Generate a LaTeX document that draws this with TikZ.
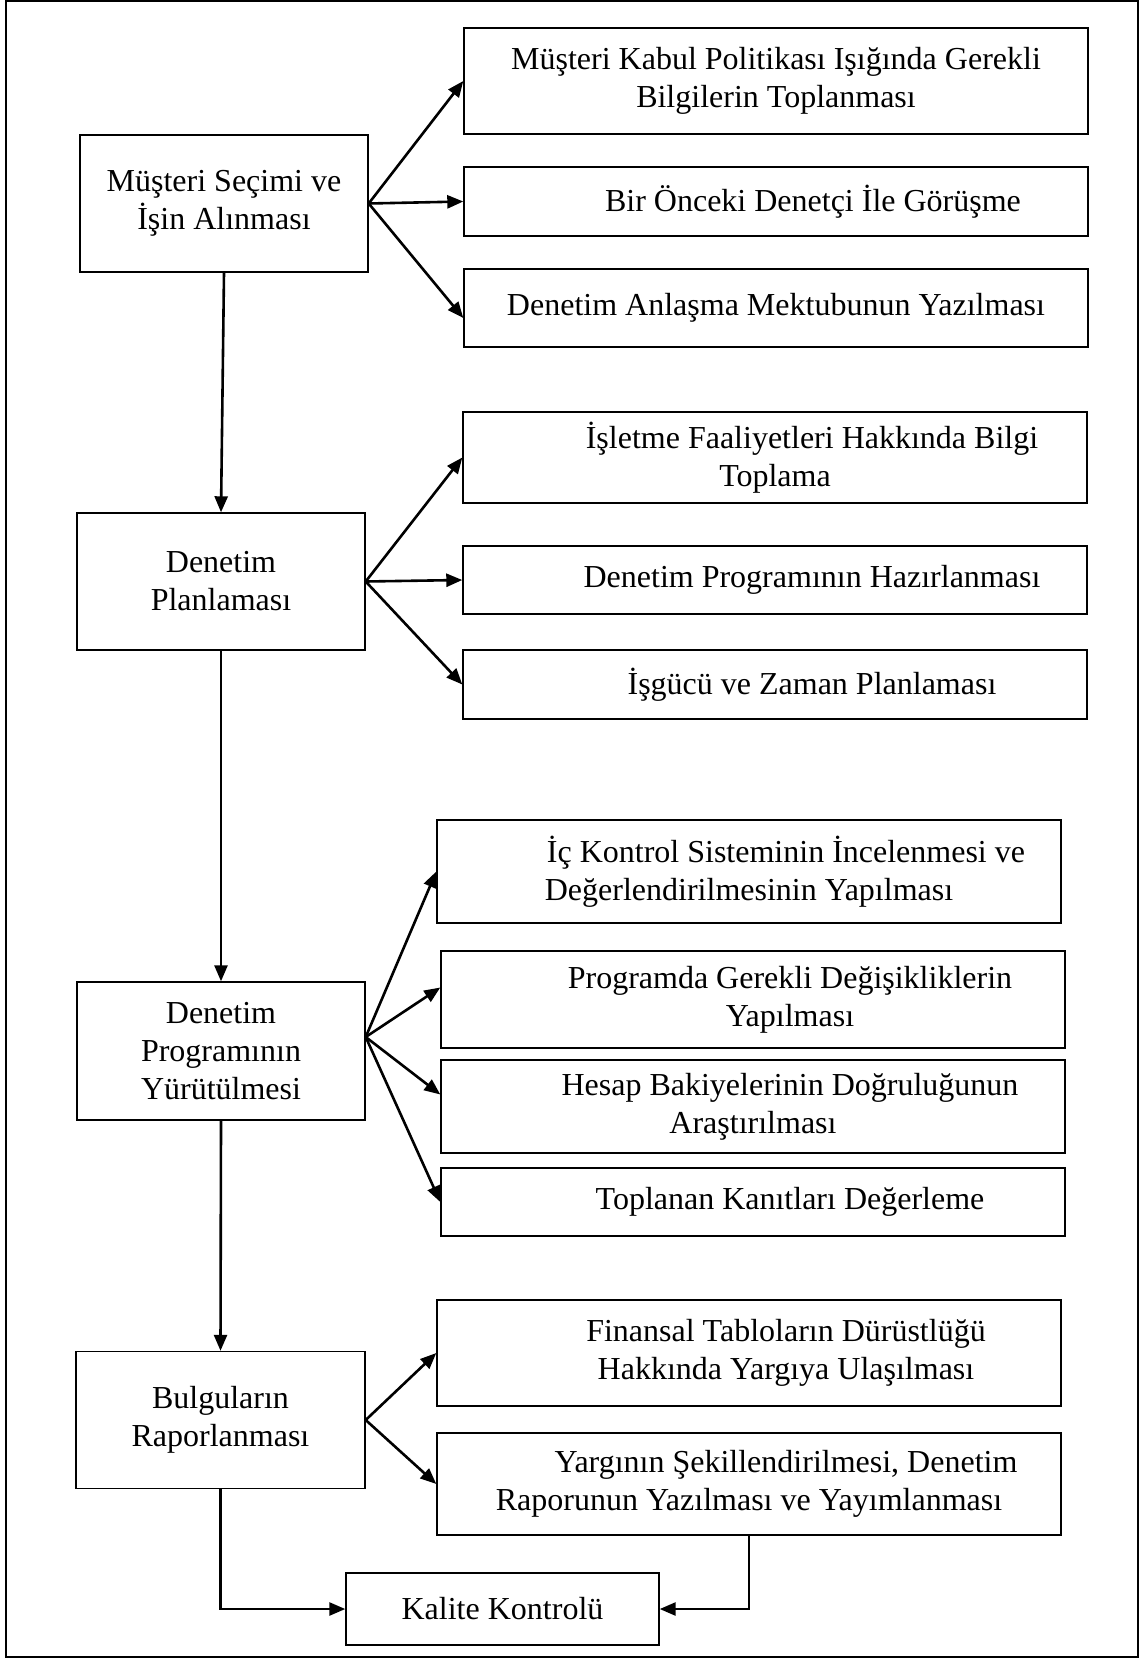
\documentclass[tikz,border=0pt]{standalone}
\usepackage{fontspec}
\setmainfont{Liberation Serif}
\usepackage{tikz}
\usetikzlibrary{arrows.meta,positioning}

\tikzset{
  mainbox/.style={draw, line width=1.4pt, minimum width=288pt, minimum height=137pt,
    align=center, inner sep=0pt, font=\fontsize{32}{38}\selectfont},
  subbox/.style={draw, line width=1.4pt, minimum width=624pt, align=center,
    inner sep=0pt, font=\fontsize{32}{38}\selectfont},
  flow/.style={-{Triangle[length=16pt,width=13pt]}, line width=2.6pt},
}
\newcommand{\ind}{\hspace*{74pt}}

\begin{document}
\begin{tikzpicture}[x=1pt, y=-1pt]
        \useasboundingbox (0,0) rectangle (1141,1659);
        \draw[line width=1.6pt] (6,1) rectangle (1138,1657);

        % main steps
        \node[mainbox] (secim) at (224, 203.5) {Müşteri Seçimi ve\\İşin Alınması};
        \node[mainbox] (plan) at (221, 581.5) {Denetim\\Planlaması};
        \node[mainbox, minimum height=138pt] (yurut) at (221, 1051) {Denetim\\Programının\\Yürütülmesi};
        \node[mainbox, minimum width=289pt] (rapor) at (220.5, 1420) {Bulguların\\Raporlanması};
        \node[mainbox, minimum width=313pt, minimum height=72pt] (kalite) at (502.5, 1609) {Kalite Kontrolü};

        % sub steps
        \node[subbox, minimum height=106pt] (kabul) at (776, 81) {Müşteri Kabul Politikası Işığında Gerekli\\Bilgilerin Toplanması};
        \node[subbox, minimum height=69pt] (onceki) at (776, 201.5) {\ind Bir Önceki Denetçi İle Görüşme};
        \node[subbox, minimum height=78pt] (mektup) at (776, 308) {Denetim Anlaşma Mektubunun Yazılması};

        \node[subbox, minimum height=91pt] (faal) at (775, 457.5) {\ind İşletme Faaliyetleri Hakkında Bilgi\\Toplama};
        \node[subbox, minimum height=68pt] (progham) at (775, 580) {\ind Denetim Programının Hazırlanması};
        \node[subbox, minimum height=69pt] (isgucu) at (775, 684.5) {\ind İşgücü ve Zaman Planlaması};

        \node[subbox, minimum height=103pt] (ickont) at (749, 871.5) {\ind İç Kontrol Sisteminin İncelenmesi ve\\Değerlendirilmesinin Yapılması};
        \node[subbox, minimum height=97pt] (degis) at (753, 999.5) {\ind Programda Gerekli Değişikliklerin\\\ind Yapılması};
        \node[subbox, minimum height=93pt] (bakiye) at (753, 1106.5) {\ind Hesap Bakiyelerinin Doğruluğunun\\Araştırılması};
        \node[subbox, minimum height=68pt] (kanit) at (753, 1202) {\ind Toplanan Kanıtları Değerleme};

        \node[subbox, minimum height=106pt] (yargi) at (749, 1353) {\ind Finansal Tabloların Dürüstlüğü\\\ind Hakkında Yargıya Ulaşılması};
        \node[subbox, minimum height=102pt] (yayim) at (749, 1484) {\ind Yargının Şekillendirilmesi, Denetim\\Raporunun Yazılması ve Yayımlanması};

        % main flow
        \draw[flow] (secim.south) -- (plan.north);
        \draw[flow] (plan.south) -- (yurut.north);
        \draw[flow] (yurut.south) -- (rapor.north);
        \draw[flow] (rapor.south) |- (kalite.west);
        \draw[flow] (yayim.south) |- (kalite.east);

        % branches
        \draw[flow] (secim.east) -- (kabul.west);
        \draw[flow] (secim.east) -- (onceki.west);
        \draw[flow] (secim.east) -- ([yshift=-10pt]mektup.west);

        \draw[flow] (plan.east) -- (faal.west);
        \draw[flow] (plan.east) -- (progham.west);
        \draw[flow] (plan.east) -- (isgucu.west);

        \draw[flow] ([yshift=14pt]yurut.east) -- (ickont.west);
        \draw[flow] ([yshift=14pt]yurut.east) -- ([yshift=12pt]degis.west);
        \draw[flow] ([yshift=14pt]yurut.east) -- ([yshift=12pt]bakiye.west);
        \draw[flow] ([yshift=14pt]yurut.east) -- (kanit.west);

        \draw[flow] (rapor.east) -- (yargi.west);
        \draw[flow] (rapor.east) -- (yayim.west);
    \end{tikzpicture}
\end{document}
